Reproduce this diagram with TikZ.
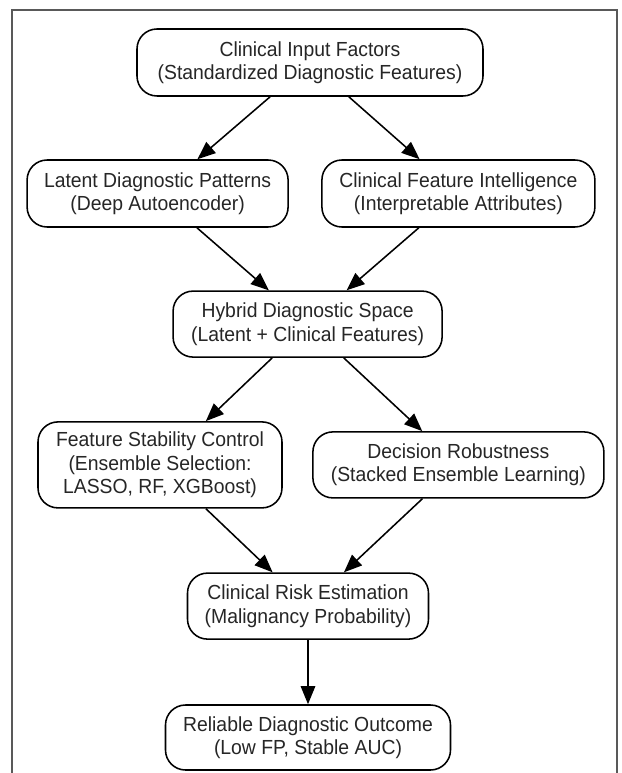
\documentclass[tikz,border=0pt]{standalone}
\usepackage{fontspec}
\setmainfont{Liberation Sans}[FakeStretch=0.95]
\usetikzlibrary{arrows.meta}

\begin{document}
\begin{tikzpicture}[font=\fontsize{14.5}{16.6}\selectfont, >={Triangle[length=0.45cm,width=0.36cm]}]
    \tikzset{ box/.style={draw, rounded corners=0.5cm, line width=1.1pt, align=center, minimum height=1.675cm, inner sep=2pt, text=black!85, fill=white} }
    \tikzset{ flow/.style={->, line width=1.1pt} }
    \useasboundingbox (-7.75,1.5625) rectangle (7.775,-17.7625);
    \draw[black!65, line width=1.2pt] (-7.45,-17.7625) |- (7.675,1.3125) -- (7.675,-17.7625);

    \node[box, minimum width=8.65cm] (input) at (0,0)
      {Clinical Input Factors\\(Standardized Diagnostic Features)};

    \node[box, minimum width=6.525cm] (latent) at (-3.81,-3.275)
      {Latent Diagnostic Patterns\\(Deep Autoencoder)};
    \node[box, minimum width=6.825cm] (clinical) at (3.71,-3.275)
      {Clinical Feature Intelligence\\(Interpretable Attributes)};

    \node[box, minimum width=6.725cm, minimum height=1.65cm] (hybrid) at (-0.06,-6.54)
      {Hybrid Diagnostic Space\\(Latent + Clinical Features)};

    \node[box, minimum width=6.1cm, minimum height=2.15cm] (stability) at (-3.75,-10.06)
      {Feature Stability Control\\(Ensemble Selection:\\LASSO, RF, XGBoost)};
    \node[box, minimum width=7.275cm, minimum height=1.65cm] (robust) at (3.71,-10.06)
      {Decision Robustness\\(Stacked Ensemble Learning)};

    \node[box, minimum width=6.025cm, minimum height=1.65cm] (risk) at (-0.05,-13.59)
      {Clinical Risk Estimation\\(Malignancy Probability)};

    \node[box, minimum width=7.125cm, minimum height=1.625cm] (outcome) at (-0.05,-16.875)
      {Reliable Diagnostic Outcome\\(Low FP, Stable AUC)};

    \draw[flow] (input) -- (latent);
    \draw[flow] (input) -- (clinical);
    \draw[flow] (latent) -- (hybrid);
    \draw[flow] (clinical) -- (hybrid);
    \draw[flow] (hybrid) -- (stability);
    \draw[flow] (hybrid) -- (robust);
    \draw[flow] (stability) -- (risk);
    \draw[flow] (robust) -- (risk);
    \draw[flow] (risk) -- (outcome);
\end{tikzpicture}
\end{document}
